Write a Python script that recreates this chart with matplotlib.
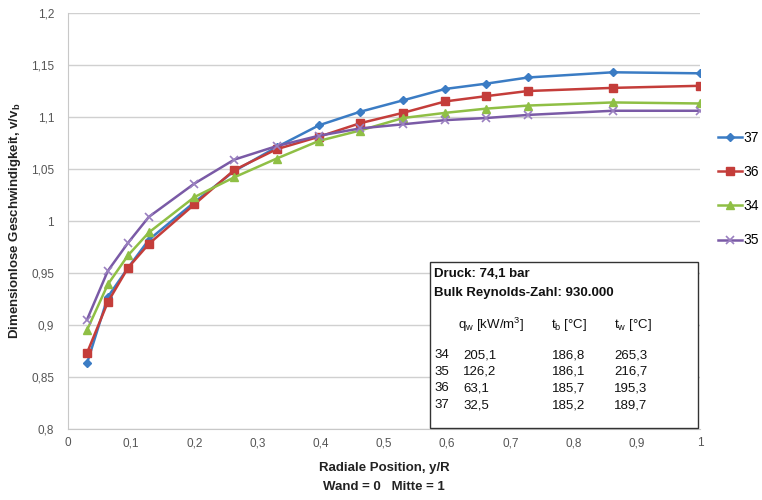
import matplotlib.pyplot as plt
from matplotlib.patches import Rectangle
from matplotlib.ticker import FuncFormatter

plt.rcParams['font.family'] = ['Liberation Sans', 'DejaVu Sans']

# radial position y/R
x = [0.03, 0.063, 0.095, 0.128, 0.2, 0.263, 0.33, 0.397, 0.462, 0.53, 0.597, 0.661, 0.728, 0.862, 1.0]

# dimensionless velocity per run
v37 = [0.863, 0.927, 0.955, 0.982, 1.018, 1.048, 1.071, 1.092, 1.105, 1.116, 1.127, 1.132, 1.138, 1.143, 1.142]
v36 = [0.873, 0.922, 0.955, 0.978, 1.016, 1.049, 1.069, 1.081, 1.094, 1.104, 1.115, 1.120, 1.125, 1.128, 1.130]
v34 = [0.895, 0.939, 0.967, 0.989, 1.023, 1.042, 1.060, 1.077, 1.087, 1.099, 1.104, 1.108, 1.111, 1.114, 1.113]
v35 = [0.905, 0.952, 0.979, 1.004, 1.036, 1.059, 1.072, 1.082, 1.089, 1.093, 1.097, 1.099, 1.102, 1.106, 1.106]

# table in the box
runs = ["34", "35", "36", "37"]
qw = ["205,1", "126,2", "63,1", "32,5"]
tb = ["186,8", "186,1", "185,7", "185,2"]
tw = ["265,3", "216,7", "195,3", "189,7"]

W, H = 762, 500
fig = plt.figure(figsize=(7.62, 5.0), dpi=100)
ax = fig.add_axes([68 / W, 1 - 429 / H, 632 / W, 416 / H])

ax.plot(x, v37, color="#3b7cc4", lw=1.8, marker="D", ms=4.5, label="37", zorder=4)
ax.plot(x, v36, color="#c43d3a", lw=1.8, marker="s", ms=6, label="36", zorder=4)
ax.plot(x, v34, color="#8fbf45", lw=1.8, marker="^", ms=6, label="34", zorder=4)
ax.plot(x, v35, color="#7a5aa6", lw=1.8, marker="x", ms=6, mew=1.2, mec="#9a80c0", label="35", zorder=4)

ax.set_xlim(0, 1)
ax.set_ylim(0.8, 1.2)
ax.set_xticks([i / 10 for i in range(11)])
ax.set_yticks([0.8 + i * 0.05 for i in range(9)])

comma = FuncFormatter(lambda v, p: ("%g" % round(v, 3)).replace(".", ","))
ax.xaxis.set_major_formatter(comma)
ax.yaxis.set_major_formatter(comma)
ax.tick_params(length=0, labelsize=8.5, colors="#555555")
ax.tick_params(axis="y", pad=10)
ax.tick_params(axis="x", pad=6)

ax.grid(axis="y", color="#d0d0d0", lw=1)
ax.set_axisbelow(True)
for s in ["top", "right"]:
    ax.spines[s].set_visible(False)
for s in ["left", "bottom"]:
    ax.spines[s].set_color("#c8c8c8")

ax.set_ylabel("Dimensionlose Geschwindigkeit, v/v$_\\mathregular{b}$", fontsize=9.5,
              fontweight="bold", color="#222222", labelpad=6)
fig.text(384 / W, 1 - 468 / H, "Radiale Position, y/R", ha="center", va="center",
         fontsize=9.5, fontweight="bold", color="#222222")
fig.text(384 / W, 1 - 487 / H, "Wand = 0   Mitte = 1", ha="center", va="center",
         fontsize=9.5, fontweight="bold", color="#222222")

fig.legend(loc="upper left", bbox_to_anchor=(718 / W, 1 - 131 / H), frameon=False,
           fontsize=10, labelspacing=1.45, handlelength=1.7, handletextpad=0.15,
           borderpad=0, borderaxespad=0)

# info box
fig.patches.append(Rectangle((430 / W, 1 - 428 / H), 268 / W, 166 / H, transform=fig.transFigure,
                             facecolor="white", edgecolor="#333333", lw=1, zorder=5))
kw = dict(fontsize=9.5, color="#111111", va="center", zorder=6)
fig.text(434 / W, 1 - 274 / H, "Druck: 74,1 bar", fontweight="bold", **kw)
fig.text(434 / W, 1 - 293 / H, "Bulk Reynolds-Zahl: 930.000", fontweight="bold", **kw)
fig.text(458 / W, 1 - 325 / H, "q$_\\mathregular{w}$ [kW/m$^\\mathregular{3}$]", **kw)
fig.text(551 / W, 1 - 325 / H, "t$_\\mathregular{b}$ [°C]", **kw)
fig.text(614 / W, 1 - 325 / H, "t$_\\mathregular{w}$ [°C]", **kw)
for i in range(len(runs)):
    yy = 1 - (355 + i * 16.7) / H
    fig.text(434 / W, yy, runs[i], **kw)
    fig.text(463 / W, yy, qw[i], **kw)
    fig.text(552 / W, yy, tb[i], **kw)
    fig.text(614 / W, yy, tw[i], **kw)

fig.savefig("out.png", dpi=100)
